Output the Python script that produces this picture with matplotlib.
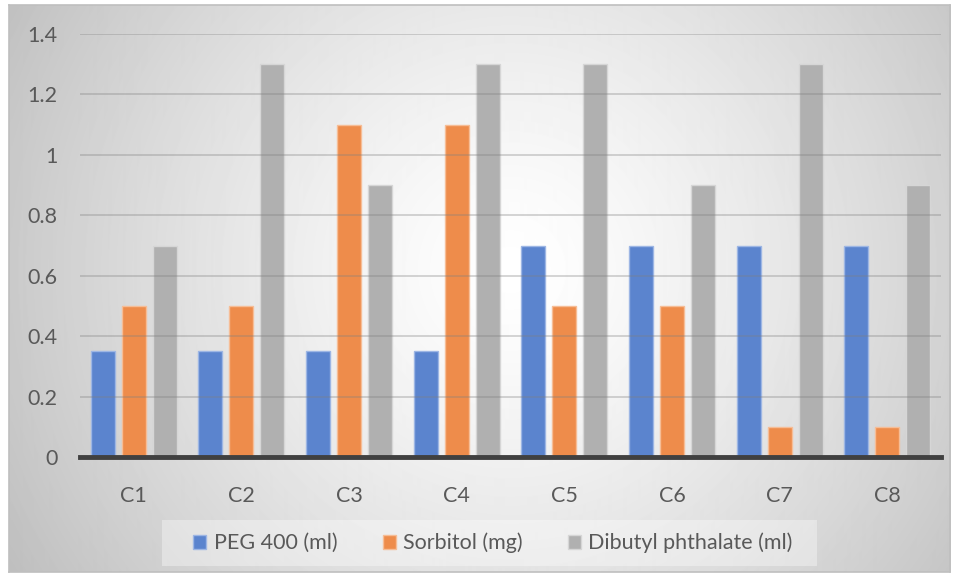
import matplotlib.pyplot as plt
import numpy as np
from matplotlib.patches import Rectangle

# data
categories = ['C1', 'C2', 'C3', 'C4', 'C5', 'C6', 'C7', 'C8']
peg = [0.35, 0.35, 0.35, 0.35, 0.7, 0.7, 0.7, 0.7]
sorbitol = [0.5, 0.5, 1.1, 1.1, 0.5, 0.5, 0.1, 0.1]
dbp = [0.7, 1.3, 0.9, 1.3, 1.3, 0.9, 1.3, 0.9]
series_names = ['PEG 400 (ml)', 'Sorbitol (mg)', 'Dibutyl phthalate (ml)']

colors = ['#5B84CE', '#EE8C4B', '#B0B0B0']
edges = ['#9DB6E4', '#F6BD96', '#D6D6D6']
text_col = '#595959'

plt.rcParams['font.family'] = ['Lato', 'DejaVu Sans']

W, H = 958, 578
fig = plt.figure(figsize=(W / 100, H / 100), dpi=100)
fig.patch.set_facecolor('white')

# radial gradient background inside the chart frame
x0, y0, x1, y1 = 9, 5, 950, 572
bg = fig.add_axes([x0 / W, 1 - y1 / H, (x1 - x0) / W, (y1 - y0) / H])
xx, yy = np.meshgrid(np.arange(x0, x1), np.arange(y0, y1))
d = np.sqrt((xx - 510) ** 2 + (yy - 270) ** 2) / 560
shade = 1 - 0.24 * np.clip(d, 0, 1.2) ** 1.3
bg.imshow(shade, cmap='gray', vmin=0, vmax=1, aspect='auto',
          extent=[0, 1, 0, 1], interpolation='bilinear')
bg.set_xticks([])
bg.set_yticks([])
for s in bg.spines.values():
    s.set_color('#BFBFBF')
    s.set_linewidth(1.2)

# legend backdrop box
fig.patches.append(Rectangle((162 / W, 1 - 566 / H), 655 / W, 46 / H,
                             transform=fig.transFigure, facecolor='white',
                             alpha=0.35, edgecolor='none', zorder=1))

# plot area
ax = fig.add_axes([80 / W, 121 / H, 861 / W, 423 / H])
ax.patch.set_alpha(0)
x = np.arange(len(categories))
width = 0.223
step = 0.288
for i, vals in enumerate([peg, sorbitol, dbp]):
    ax.bar(x + (i - 1) * step, vals, width, color=colors[i],
           edgecolor=edges[i], linewidth=1, label=series_names[i], zorder=2)

ax.set_xlim(-0.5, len(categories) - 0.5)
ax.set_ylim(0, 1.4)
ax.set_yticks(np.arange(0, 1.41, 0.2))
ax.set_yticklabels(['0', '0.2', '0.4', '0.6', '0.8', '1', '1.2', '1.4'])
ax.set_xticks(x)
ax.set_xticklabels(categories)
ax.tick_params(axis='both', length=0, labelsize=15.5, colors=text_col)
ax.tick_params(axis='y', pad=16)
ax.tick_params(axis='x', pad=21)
ax.grid(axis='y', color='#808080', alpha=0.38, linewidth=1.2, zorder=3)
ax.set_axisbelow(False)
for side in ['top', 'right', 'left']:
    ax.spines[side].set_visible(False)
ax.spines['bottom'].set_color('#404040')
ax.spines['bottom'].set_linewidth(3.5)
ax.spines['bottom'].set_zorder(4)

leg = fig.legend(loc='center', bbox_to_anchor=(493 / W, 1 - 543 / H), ncol=3,
                 frameon=False, fontsize=15.5, handlelength=0.6, handleheight=0.6,
                 handletextpad=0.35, columnspacing=2.1, borderpad=0.45,
                 borderaxespad=0, labelcolor=text_col)

fig.savefig('out.png', dpi=100)
